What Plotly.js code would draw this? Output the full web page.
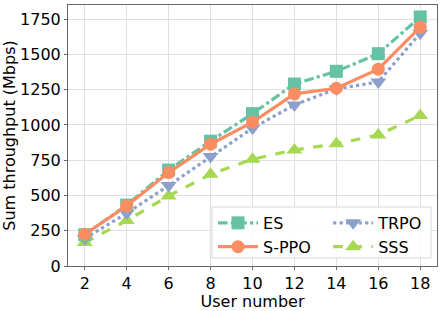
<!DOCTYPE html>
<html><head><meta charset="utf-8">
<script src="https://cdn.plot.ly/plotly-3.0.1.min.js"></script>
<style>html,body{margin:0;padding:0;background:#fff}#c{width:445px;height:311px}</style>
</head><body><div id="c"></div>
<script>
const users = [2, 4, 6, 8, 10, 12, 14, 16, 18];
const es   = [222, 432, 680, 885, 1080, 1290, 1380, 1505, 1765];
const sppo = [225, 426, 662, 863, 1019, 1220, 1260, 1395, 1693];
const trpo = [195, 374, 570, 776, 977, 1142, 1255, 1305, 1650];
const sss  = [166, 322, 497, 650, 757, 823, 866, 929, 1067];
const yTicks = [0, 250, 500, 750, 1000, 1250, 1500, 1750];

function tr(name, y, color, dash, symbol, size, rank, leg) {
  return {x: users, y: y, name: name, type: 'scatter', mode: 'lines+markers',
    line: {color: color, width: 3.2, dash: dash},
    marker: {color: color, symbol: symbol, size: size}, legendrank: rank, legend: leg};
}
const data = [
  tr('SSS', sss, '#a6d854', 'dash', 'triangle-up', 14, 2, 'legend2'),
  tr('TRPO', trpo, '#8da0cb', 'dot', 'triangle-down', 14, 1, 'legend2'),
  tr('ES', es, '#66c2a5', 'dashdot', 'square', 13, 1, 'legend'),
  tr('S-PPO', sppo, '#fc8d62', 'solid', 'circle', 13, 2, 'legend')
];
const legCommon = {orientation: 'v', yanchor: 'top', xanchor: 'left', itemwidth: 40,
  bgcolor: 'rgba(0,0,0,0)', borderwidth: 0, font: {size: 16}, traceorder: 'normal', tracegroupgap: 0};
const layout = {
  width: 445, height: 311,
  margin: {l: 68, r: 8, t: 5, b: 45},
  font: {family: 'DejaVu Sans', size: 16, color: '#000'},
  paper_bgcolor: '#fff', plot_bgcolor: '#fff',
  xaxis: {range: [1.2, 18.8], tickvals: users, showgrid: true, gridcolor: '#e0e0e0',
    zeroline: false, showline: true, mirror: true, linecolor: '#666', linewidth: 1,
    ticks: 'outside', ticklen: 3, tickcolor: '#666',
    title: {text: 'User number', font: {size: 16}, standoff: 0}},
  yaxis: {range: [0, 1850], tickvals: yTicks, showgrid: true, gridcolor: '#e0e0e0',
    zeroline: false, showline: true, mirror: true, linecolor: '#666', linewidth: 1,
    ticks: 'outside', ticklen: 3, tickcolor: '#666',
    title: {text: 'Sum throughput (Mbps)', font: {size: 16}, standoff: 3}},
  shapes: [{type: 'rect', xref: 'paper', yref: 'paper', x0: 0.39, x1: 0.984, y0: 0.031, y1: 0.226,
    fillcolor: 'rgba(255,255,255,0.85)', line: {color: '#d8d8d8', width: 1}, layer: 'above'}],
  legend: Object.assign({}, legCommon, {x: 0.393, y: 0.23}),
  legend2: Object.assign({}, legCommon, {x: 0.705, y: 0.23})
};
Plotly.newPlot('c', data, layout, {staticPlot: true, displayModeBar: false});
</script></body></html>
